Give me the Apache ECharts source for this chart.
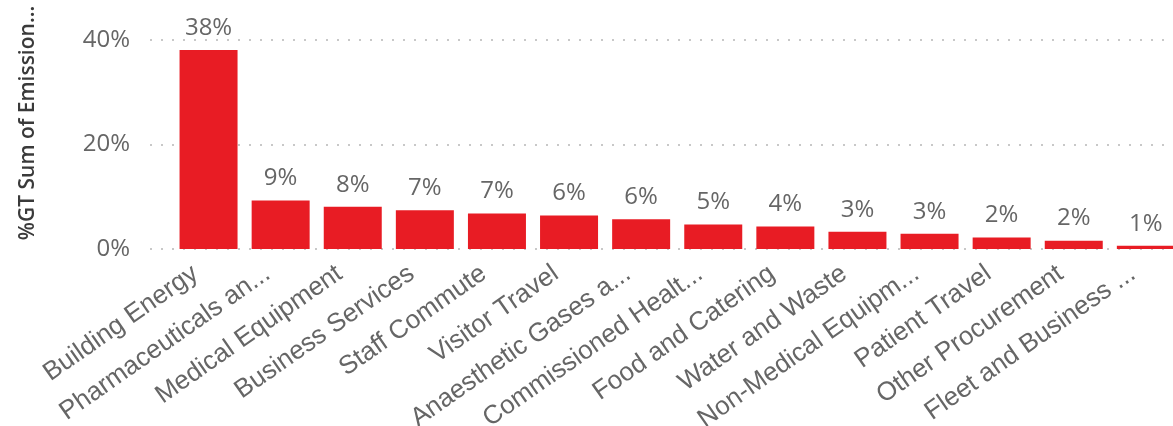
<!DOCTYPE html>
<html>
<head>
<meta charset="utf-8">
<script src="https://cdn.jsdelivr.net/npm/echarts@6/dist/echarts.min.js"></script>
<style>
html,body{margin:0;padding:0;background:#fff;}
#chart{width:1173px;height:426px;}
</style>
</head>
<body>
<div id="chart"></div>
<script>
const categories = ['Building Energy','Pharmaceuticals an...','Medical Equipment','Business Services','Staff Commute','Visitor Travel','Anaesthetic Gases a...','Commissioned Healt...','Food and Catering','Water and Waste','Non-Medical Equipm...','Patient Travel','Other Procurement','Fleet and Business ...'];
const shares = [0.381, 0.093, 0.081, 0.074, 0.068, 0.064, 0.057, 0.047, 0.043, 0.033, 0.029, 0.022, 0.016, 0.006];
const yMin = 0, yMax = 0.4, yStep = 0.2;
const yTitle = '%GT Sum of Emission...';

const chart = echarts.init(document.getElementById('chart'));
const pct = v => Math.round(v * 100) + '%';
chart.setOption({
  animation: false,
  backgroundColor: '#fff',
  grid: [
    {left: 150, right: 0, top: 40, bottom: 177, outerBoundsMode: 'none', containLabel: false},
    {left: 172.5, width: 1009.4, top: 40, bottom: 177, outerBoundsMode: 'none', containLabel: false}
  ],
  xAxis: [
    {gridIndex: 0, type: 'value', min: 0, max: 1, show: false},
    {gridIndex: 1, type: 'category', data: categories,
     axisLine: {show: false}, axisTick: {show: false},
     axisLabel: {interval: 0, rotate: 35, margin: 13, fontSize: 26, color: '#666',
       padding: [0, 16, 0, 0],
       fontFamily: '"Liberation Sans", Arial, sans-serif'}}
  ],
  yAxis: [
    {gridIndex: 0, type: 'value', min: yMin, max: yMax, interval: yStep,
     axisLine: {show: false}, axisTick: {show: false},
     axisLabel: {formatter: pct, fontSize: 24, color: '#666', margin: 20,
       fontFamily: '"Open Sans", sans-serif'},
     splitLine: {show: true, lineStyle: {color: '#c8c8c8', width: 2, type: [2, 9]}}},
    {gridIndex: 1, type: 'value', min: yMin, max: yMax, show: false, splitLine: {show: false}}
  ],
  graphic: [{
    type: 'text', x: 28, y: 123, rotation: Math.PI / 2,
    style: {text: yTitle, fontSize: 21, fontWeight: 600, fill: '#3a3a3a',
      fontFamily: '"Open Sans", sans-serif', textAlign: 'center', textVerticalAlign: 'middle'}
  }],
  series: [{
    type: 'bar', xAxisIndex: 1, yAxisIndex: 1, data: shares, barWidth: 58,
    itemStyle: {color: '#E81C24'},
    label: {show: true, position: 'top', distance: 10, formatter: p => pct(p.value),
      fontSize: 24, color: '#666', fontFamily: '"Open Sans", sans-serif'}
  }]
});
</script>
</body>
</html>
